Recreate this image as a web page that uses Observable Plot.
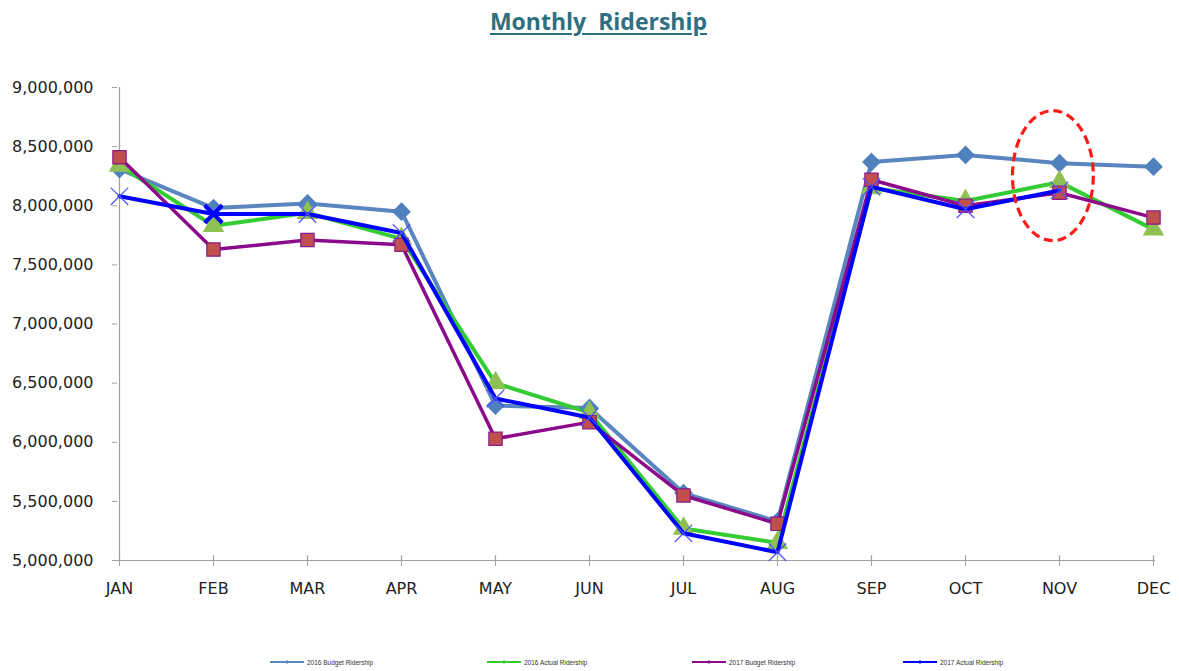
<!DOCTYPE html>
<html><head><meta charset="utf-8">
<script src="https://cdn.jsdelivr.net/npm/d3@7"></script>
<script src="https://cdn.jsdelivr.net/npm/@observablehq/plot@0.6"></script>
<style>
body{margin:0;background:#fff;width:1179px;height:671px;overflow:hidden;position:relative;font-family:"DejaVu Sans",sans-serif;}
#title{height:45px;text-align:center;font-family:"Open Sans",sans-serif;font-weight:700;font-size:23px;color:#2f6f7f;line-height:42px;padding-left:18px;}
#title span{text-decoration:underline;text-underline-offset:3px;text-decoration-thickness:2px;white-space:pre;}
#legend{position:absolute;top:658px;left:0;width:1179px;height:14px;}
.li{position:absolute;top:0;display:flex;align-items:center;font-size:6.5px;color:#333;font-family:"Liberation Sans",sans-serif;}
.li svg{margin-right:3px;}
</style></head><body>
<div id="title"><span>Monthly  Ridership</span></div>
<div id="chart"></div>
<div id="legend"></div>
<script>
const months = ["JAN","FEB","MAR","APR","MAY","JUN","JUL","AUG","SEP","OCT","NOV","DEC"];
const budget2016 = [8310000,7980000,8020000,7950000,6310000,6290000,5570000,5330000,8370000,8430000,8360000,8330000];
const actual2016 = [8340000,7830000,7940000,7720000,6500000,6250000,5270000,5150000,8150000,8040000,8200000,7800000];
const budget2017 = [8410000,7630000,7710000,7670000,6030000,6170000,5550000,5310000,8220000,8000000,8110000,7900000];
const actual2017 = [8080000,7930000,7930000,7770000,6370000,6210000,5230000,5070000,8160000,7970000,8130000,null];
const seriesNames = ["2016 Budget Ridership","2016 Actual Ridership","2017 Budget Ridership","2017 Actual Ridership"];
const yTicks = [5000000,5500000,6000000,6500000,7000000,7500000,8000000,8500000,9000000];
const emphasized2017Actual = ["FEB"];
const highlightMonth = "NOV";
const highlightCenter = 8250000;
const highlightHalfHeight = 550000;

const rows = (vals) => months.map((m,i)=>({month:m, value:vals[i]})).filter(d=>d.value!=null);
const d1 = rows(budget2016), d2 = rows(actual2016), d3r = rows(budget2017), d4 = rows(actual2017);

const ellipseMark = (index, scales) => {
  const x = scales.x, y = scales.y;
  const step = x(months[1]) - x(months[0]);
  const cx = x(highlightMonth) - step*0.065;
  const cy = y(highlightCenter);
  const ry = y(highlightCenter - highlightHalfHeight) - cy;
  const e = d3.create("svg:ellipse")
    .attr("cx", cx).attr("cy", cy).attr("rx", step*0.43).attr("ry", ry)
    .attr("fill","none").attr("stroke","#ff1a1a").attr("stroke-width",3.2)
    .attr("stroke-dasharray","9,5");
  return e.node();
};

const chart = Plot.plot({
  width: 1179, height: 575,
  marginLeft: 117, marginRight: 24, marginTop: 42, marginBottom: 60,
  style: {fontFamily: "DejaVu Sans, sans-serif", background: "#fff", overflow: "visible"},
  x: {type: "point", domain: months, padding: 0},
  y: {domain: [5000000, 9000000]},
  marks: [
    Plot.ruleY([5000000], {stroke: "#a0a0a0", strokeWidth: 1.2}),
    Plot.ruleX(["JAN"], {y1: 5000000, y2: 9000000, stroke: "#a0a0a0", strokeWidth: 1.2}),
    Plot.ruleX(months, {x: d=>d, y1: 5000000, y2: 5040000, stroke: "#a0a0a0", strokeWidth: 1.2}),
    Plot.axisX({tickSize: 6, tickPadding: 16, fontSize: 16, stroke: "#a0a0a0", fill: "#222", label: null, tickFormat: d=>d, style:"letter-spacing:0.6px"}),
    Plot.axisY({ticks: yTicks, tickSize: 5, tickPadding: 19, fontSize: 16, stroke: "#a0a0a0", fill: "#222", label: null, tickFormat: d3.format(","), style:"letter-spacing:0.9px"}),
    Plot.line(d1, {x: "month", y: "value", stroke: "#5a86bf", strokeWidth: 4}),
    Plot.dot(d1, {x: "month", y: "value", symbol: "diamond2", r: 7.5, fill: "#4f81bd", stroke: "#4f81bd"}),
    Plot.line(d2, {x: "month", y: "value", stroke: "#33cc33", strokeWidth: 4}),
    Plot.dot(d2, {x: "month", y: "value", symbol: "triangle", r: 7, fill: "#8fc152", stroke: "#8fc152"}),
    Plot.line(d3r, {x: "month", y: "value", stroke: "#8b0a8b", strokeWidth: 3.5}),
    Plot.dot(d3r, {x: "month", y: "value", symbol: "square", r: 7.5, fill: "#c0504d", stroke: "#8b1a8b", strokeWidth: 1.2}),
    Plot.line(d4, {x: "month", y: "value", stroke: "#0000ff", strokeWidth: 4}),
    Plot.dot(d4, {x: "month", y: "value", symbol: "times", r: 8, stroke: "#5050ff", strokeWidth: 1.2}),
    Plot.dot(d4.filter(d=>emphasized2017Actual.includes(d.month)), {x: "month", y: "value", symbol: "times", r: 8, stroke: "#0000ff", strokeWidth: 4}),
    ellipseMark
  ]
});
document.getElementById("chart").appendChild(chart);

const legendColors = ["#5a86bf","#33cc33","#8b0a8b","#0000ff"];
const legendX = [270, 487, 692, 903];
const lg = document.getElementById("legend");
seriesNames.forEach((n,i)=>{
  const div = document.createElement("div");
  div.className = "li";
  div.style.left = legendX[i] + "px";
  div.innerHTML = `<svg width="34" height="8"><line x1="0" y1="4" x2="34" y2="4" stroke="${legendColors[i]}" stroke-width="2"/><line x1="17" y1="2" x2="17" y2="6" stroke="${legendColors[i]}" stroke-width="1"/></svg><span>${n}</span>`;
  lg.appendChild(div);
});
</script>
</body></html>
